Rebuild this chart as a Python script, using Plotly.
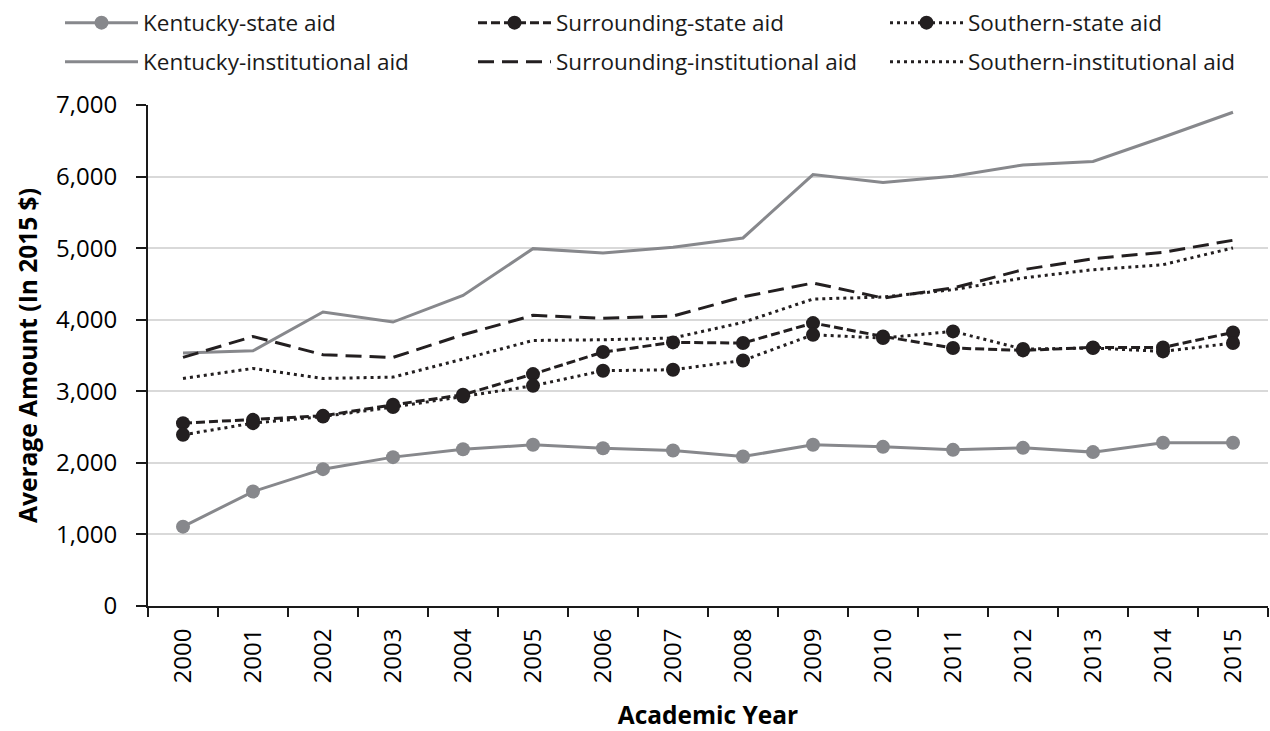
import plotly.graph_objects as go

years = [str(y) for y in range(2000, 2016)]

ky_state = [1109, 1599, 1912, 2080, 2191, 2252, 2205, 2172, 2088, 2252, 2224, 2182, 2210, 2150, 2280, 2280]
sur_state = [2555, 2601, 2657, 2811, 2951, 3240, 3548, 3683, 3674, 3953, 3767, 3604, 3571, 3613, 3613, 3822]
sou_state = [2392, 2555, 2648, 2779, 2928, 3077, 3287, 3301, 3431, 3790, 3744, 3837, 3590, 3604, 3557, 3674]
ky_inst = [3534, 3566, 4107, 3967, 4340, 4993, 4933, 5011, 5142, 6028, 5916, 6004, 6163, 6210, 6550, 6899]
sur_inst = [3473, 3766, 3510, 3473, 3790, 4061, 4019, 4051, 4320, 4513, 4303, 4443, 4699, 4853, 4942, 5110]
sou_inst = [3179, 3319, 3179, 3198, 3450, 3710, 3720, 3744, 3963, 4289, 4317, 4420, 4583, 4699, 4769, 5003]

GRAY = "#87888c"
DARK = "#231f20"
FONT = "Open Sans"

W, H = 1270, 731
ML, MR, MT, MB = 148, 2, 105, 125
PW, PH = W - ML - MR, H - MT - MB

fig = go.Figure()

# (name, values, color, dash, markers, legend id, legend x px, legend y px)
series = [
    ("Kentucky-institutional aid", ky_inst, GRAY, "solid", False, "legend4", 60, 62),
    ("Surrounding-institutional aid", sur_inst, DARK, "16px,8px", False, "legend5", 473, 62),
    ("Southern-institutional aid", sou_inst, DARK, "3px,4px", False, "legend6", 885, 62),
    ("Kentucky-state aid", ky_state, GRAY, "solid", True, "legend", 60, 23),
    ("Surrounding-state aid", sur_state, DARK, "9px,4px", True, "legend2", 473, 23),
    ("Southern-state aid", sou_state, DARK, "3px,4px", True, "legend3", 885, 23),
]

legends = {}
for name, y, color, dash, markers, lg, lx, ly in series:
    fig.add_trace(go.Scatter(
        x=years, y=y, name=name,
        mode="lines+markers" if markers else "lines",
        line=dict(color=color, width=3, dash=dash),
        marker=dict(size=14, color=color) if markers else None,
        legend=lg,
    ))
    legends[lg] = dict(
        orientation="v", xref="paper", yref="paper",
        x=(lx - ML) / PW, xanchor="left",
        y=(H - MB - ly) / PH, yanchor="middle",
        font=dict(family=FONT, size=22.5, color="#1a1a1a"),
        itemwidth=73, bgcolor="rgba(0,0,0,0)",
        borderwidth=0,
    )

fig.update_layout(
    width=W, height=H,
    margin=dict(l=ML, r=MR, t=MT, b=MB, autoexpand=False),
    plot_bgcolor="white", paper_bgcolor="white",
    font=dict(family=FONT, size=24, color="#000000"),
    showlegend=True,
    **legends,
)

fig.update_xaxes(
    type="category", tickson="boundaries", range=[-0.5, len(years) - 0.5],
    ticks="outside", ticklen=9, tickcolor="#1a1a1a", tickwidth=1.5,
    showline=True, linecolor="#1a1a1a", linewidth=2,
    tickangle=-90, tickfont=dict(size=24, family=FONT, color="#000"),
    ticklabelstandoff=11,
    showgrid=False,
    title=dict(text="<b>Academic Year</b>", font=dict(size=24.5, family=FONT, color="#000"), standoff=26),
)
fig.update_yaxes(
    range=[0, 7000], tickvals=list(range(0, 7001, 1000)), tickformat=",d",
    ticks="outside", ticklen=10, tickcolor="#1a1a1a", tickwidth=1.5,
    showline=True, linecolor="#1a1a1a", linewidth=2,
    showgrid=True, gridcolor="#d9d9d9", gridwidth=1.5,
    zeroline=False,
    tickfont=dict(size=24, family=FONT, color="#000"),
    ticklabelstandoff=14,
    title=dict(text="<b>Average Amount (In 2015 $)</b>", font=dict(size=24.5, family=FONT, color="#000"), standoff=12),
)

fig.write_html("out.html", config={"displayModeBar": False},
               post_script="document.body.style.margin='0';")
